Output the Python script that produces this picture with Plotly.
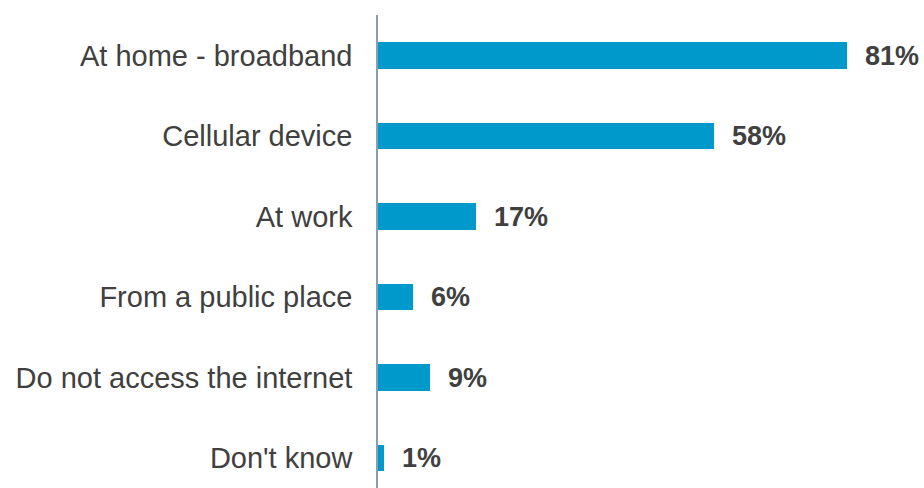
import plotly.graph_objects as go

# Internet access locations (share of respondents, %)
categories = [
    "At home - broadband",
    "Cellular device",
    "At work",
    "From a public place",
    "Do not access the internet",
    "Don't know",
]
values = [81, 58, 17, 6, 9, 1]
value_labels = [f"{v}%" for v in values]

BAR_COLOR = "#0099CC"
TEXT_COLOR = "#404040"
AXIS_COLOR = "#8C9DAF"

fig = go.Figure(
    go.Bar(
        x=values,
        y=categories,
        orientation="h",
        width=0.33,
        marker=dict(color=BAR_COLOR, line=dict(width=0)),
        hoverinfo="skip",
    )
)

# Bold value labels to the right of each bar
for cat, val, lab in zip(categories, values, value_labels):
    fig.add_annotation(
        x=val,
        y=cat,
        text=f"<b>{lab}</b>",
        showarrow=False,
        xanchor="left",
        yanchor="middle",
        xshift=16,
        font=dict(family="Liberation Sans, Arial, sans-serif", size=27, color=TEXT_COLOR),
    )

fig.update_layout(
    width=924,
    height=488,
    margin=dict(l=378, r=0, t=15, b=0),
    paper_bgcolor="white",
    plot_bgcolor="white",
    showlegend=False,
    bargap=0,
    xaxis=dict(
        range=[0, 94.3],
        showgrid=False,
        zeroline=False,
        showline=False,
        showticklabels=False,
        ticks="",
        fixedrange=True,
    ),
    yaxis=dict(
        categoryorder="array",
        categoryarray=categories,
        range=[5.373, -0.506],
        showgrid=False,
        zeroline=False,
        showline=True,
        linecolor=AXIS_COLOR,
        linewidth=1.5,
        ticks="",
        ticklabelstandoff=18,
        tickfont=dict(family="Liberation Sans, Arial, sans-serif", size=29, color=TEXT_COLOR),
        fixedrange=True,
    ),
)

fig.write_html("out.html")
